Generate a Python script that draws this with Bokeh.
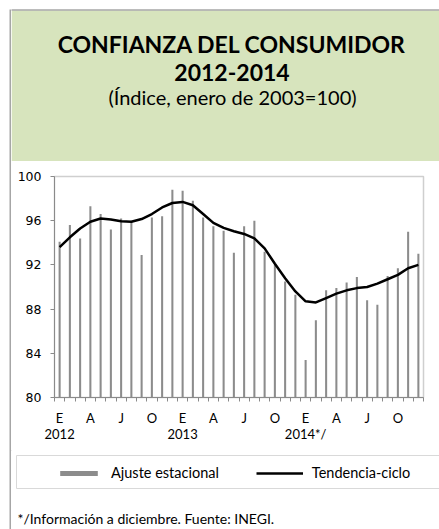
from bokeh.plotting import figure
from bokeh.models import (Range1d, FixedTicker, LinearAxis, Legend, LegendItem,
                          ColumnDataSource, Spacer)
from bokeh.layouts import row, column
from bokeh.core.properties import value
from bokeh.embed import file_html
from bokeh.resources import INLINE

# ---- data ----
ajuste = [94.1, 95.6, 94.4, 97.3, 96.6, 95.2, 96.2, 96.0, 92.9, 96.3, 96.4, 98.8,
          98.7, 97.8, 96.3, 95.5, 95.1, 93.1, 95.5, 96.0, 93.2, 92.0, 90.5, 89.3,
          83.4, 87.0, 89.7, 89.9, 90.4, 90.9, 88.8, 88.4, 91.0, 91.7, 95.0, 93.0]
tendencia = [93.6, 94.5, 95.3, 95.9, 96.2, 96.1, 95.95, 95.9, 96.15, 96.6, 97.2, 97.6,
             97.7, 97.4, 96.6, 95.8, 95.35, 95.05, 94.8, 94.4, 93.5, 92.1, 90.8, 89.6,
             88.7, 88.6, 89.0, 89.4, 89.7, 89.9, 90.0, 90.3, 90.7, 91.1, 91.7, 92.0]
mes_labels = ["E", "A", "J", "O"] * 3
anio_labels = ["2012", "2013", "2014*/"]
y_ticks = [80, 84, 88, 92, 96, 100]
titulo = ["CONFIANZA DEL CONSUMIDOR", "2012-2014"]
subtitulo = "(Índice, enero de 2003=100)"
nota = "*/Información a diciembre.   Fuente: INEGI."
serie_nombres = ["Ajuste estacional", "Tendencia-ciclo"]

BAR_COLOR = "#8c8c8c"
AXIS_COLOR = "#8a8a8a"
BORDER = "#a6a6a6"
GREEN = "#d7e4bd"

# page geometry (Bokeh's page template has no body margin: layout at page 0,0)
X0 = 11          # content left on page
CW = 428         # content width (11..439)
HT, HC, HL = 161, 289, 79   # heights of title / chart / legend parts
YT0, YC0, YL0 = 0, HT, HT + HC
TOTAL_H = HT + HC + HL


def deco_fig(h, y0):
    f = figure(width=CW, height=h, output_backend="svg", toolbar_location=None,
               x_range=Range1d(X0, X0 + CW), y_range=Range1d(y0 + h, y0),
               min_border=0, x_axis_location=None, y_axis_location=None,
               frame_align=False)
    f.xgrid.visible = False
    f.ygrid.visible = False
    f.outline_line_color = None
    f.background_fill_color = "white"
    f.border_fill_color = "white"
    return f


# ---- title part ----
ft = deco_fig(HT, YT0)
ft.quad(left=[X0], right=[X0 + CW + 5], top=[10], bottom=[YT0 + HT + 1],
        fill_color=GREEN, line_color=None)
ft.quad(left=[X0 - 2], right=[X0 + CW + 5], top=[8.8], bottom=[10.3],
        fill_color=BORDER, line_color=None)
ft.text(x=[231.5, 231.5], y=[43.3, 72.3], text=titulo, text_font=value("Lato"),
        text_font_style="bold", text_font_size="23px", text_align="center",
        text_baseline="alphabetic", text_color="#000000")
ft.text(x=[232], y=[96.7], text=[subtitulo], text_font=value("Lato"),
        text_font_size="20px", text_align="center", text_baseline="alphabetic",
        text_color="#000000")

# ---- chart part ----
n = len(ajuste)
src = ColumnDataSource(dict(x=list(range(n)), ajuste=ajuste, tendencia=tendencia))

p = figure(width=CW, height=HC, output_backend="svg", toolbar_location=None,
           x_range=Range1d(-0.5, n - 0.5), y_range=Range1d(80, 100),
           min_border_left=54 - X0, min_border_right=(X0 + CW) - 423,
           min_border_top=176 - YC0, min_border_bottom=(YC0 + HC) - 397,
           x_axis_location=None, y_axis_location=None, frame_align=False)
p.background_fill_color = "white"
p.border_fill_color = "white"
p.outline_line_color = "#cfcfcf"
p.outline_line_width = 1.5
p.xgrid.visible = False
p.ygrid.visible = False

yax = LinearAxis(ticker=FixedTicker(ticks=y_ticks))
yax.axis_line_color = AXIS_COLOR
yax.major_tick_line_color = AXIS_COLOR
yax.major_tick_out = 4
yax.major_tick_in = 0
yax.minor_tick_line_color = None
yax.major_label_standoff = 9
yax.major_label_text_font = "DejaVu Sans"
yax.major_label_text_font_size = "12.5px"
yax.major_label_text_color = "#000000"
p.add_layout(yax, "left")

major = [i * 3 for i in range(len(mes_labels))]
overrides = {}
for k, m in enumerate(major):
    lab = mes_labels[k]
    if m % 12 == 0:
        lab = lab + "\n" + anio_labels[m // 12]
    overrides[m] = lab
xax = LinearAxis(ticker=FixedTicker(ticks=major,
                                    minor_ticks=[i - 0.5 for i in range(n + 1)]))
xax.major_label_overrides = overrides
xax.axis_line_color = AXIS_COLOR
xax.major_tick_line_color = None
xax.major_tick_out = 0
xax.major_tick_in = 0
xax.minor_tick_line_color = AXIS_COLOR
xax.minor_tick_out = 4
xax.minor_tick_in = 0
xax.major_label_standoff = 8
xax.major_label_text_font = "Lato"
xax.major_label_text_font_size = "13px"
xax.major_label_text_line_height = 1.0
xax.major_label_text_color = "#000000"
p.add_layout(xax, "below")

p.vbar(x="x", top="ajuste", bottom=80, width=0.2, source=src,
       fill_color=BAR_COLOR, line_color=None)
p.line(x="x", y="tendencia", source=src, line_color="#000000", line_width=2.5)

# ---- legend + note part ----
fl = deco_fig(HL, YL0)
fl.quad(left=[16], right=[X0 + CW + 10], top=[455], bottom=[488],
        fill_color=None, line_color="#d9d9d9", line_width=1)
# legend sample renderers (kept outside the visible range)
dummy = ColumnDataSource(dict(x=[-1000, -999], top=[0, 0], y=[0, 0]))
lb = fl.vbar(x="x", top="top", width=1, source=dummy, fill_color=BAR_COLOR, line_color=None)
ll = fl.line(x="x", y="y", source=dummy, line_color="#000000", line_width=2.5)
legend = Legend(items=[LegendItem(label=serie_nombres[0], renderers=[lb]),
                       LegendItem(label=serie_nombres[1], renderers=[ll])],
                orientation="horizontal", location=(55 - X0, (YL0 + HL) - 481),
                padding=0, margin=0, spacing=37, label_standoff=9,
                glyph_width=47, glyph_height=6, border_line_alpha=0,
                background_fill_alpha=0, label_text_font="Lato",
                label_text_font_size="14.5px", label_text_color="#000000")
fl.add_layout(legend, "center")
fl.text(x=[17], y=[518], text=[nota], text_font=value("Lato"), text_font_size="14px",
        text_align="left", text_baseline="middle", text_color="#000000")

# ---- left border strip ----
strip = figure(width=2, height=TOTAL_H - 9, output_backend="svg", toolbar_location=None,
               min_border=0, x_axis_location=None, y_axis_location=None,
               frame_align=False)
strip.background_fill_color = BORDER
strip.border_fill_color = BORDER
strip.outline_line_color = None
strip.xgrid.visible = False
strip.ygrid.visible = False

layout = row(Spacer(width=9, height=TOTAL_H),
             column(Spacer(width=2, height=9), strip),
             column(ft, p, fl))

open("out.html", "w").write(file_html(layout, INLINE))
